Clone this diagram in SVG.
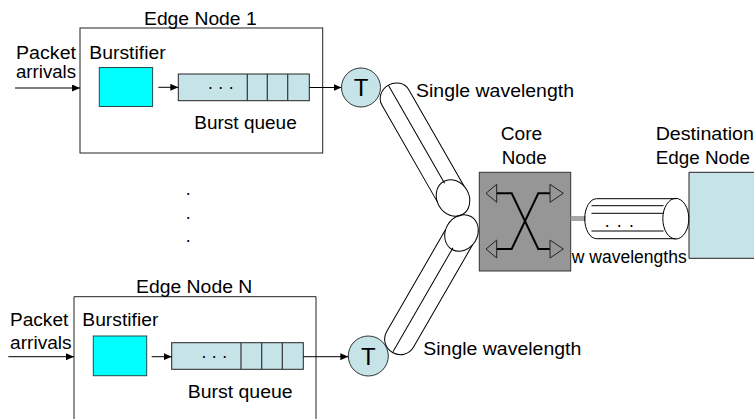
<svg xmlns="http://www.w3.org/2000/svg" width="754" height="419" viewBox="0 0 754 419">
<style>
text{font-family:"Liberation Sans",Arial,sans-serif;font-size:17.5px;fill:#000}
.box{fill:#fff;stroke:#222;stroke-width:1}
.burst{fill:#00FFFF;stroke:#2a4a4a;stroke-width:1}
.queue{fill:#C6E4E8;stroke:#222;stroke-width:1}
.div{stroke:#333;stroke-width:1.2}
.tx{fill:#C6E4E8;stroke:#333;stroke-width:1}
.arr{stroke:#000;stroke-width:1;fill:none;marker-end:url(#ah)}
.tube{fill:none;stroke:#000;stroke-width:1}
.sw{fill:none;stroke:#000;stroke-width:2}
.tri{fill:none;stroke:#222;stroke-width:1}
.dots{font-size:17.5px}
</style>
<defs>
<marker id="ah" markerWidth="8" markerHeight="7" refX="8" refY="3.5" orient="auto" markerUnits="userSpaceOnUse">
<path d="M0,0 L8,3.5 L0,7 Z" fill="#000"/>
</marker>
</defs>
<rect width="754" height="419" fill="#fff"/>

<g id="edge-node-1">
<rect class="box" x="80" y="28" width="242.7" height="125"/>
<text x="144" y="25" textLength="112.7" lengthAdjust="spacingAndGlyphs">Edge Node 1</text>
<text x="89.3" y="59.3" textLength="76.4" lengthAdjust="spacingAndGlyphs">Burstifier</text>
<rect class="burst" x="99.3" y="67.5" width="53.3" height="39"/>
<rect class="queue" x="178.3" y="74" width="131" height="26.7"/>
<line class="div" x1="247.3" y1="74" x2="247.3" y2="100.7"/>
<line class="div" x1="267.3" y1="74" x2="267.3" y2="100.7"/>
<line class="div" x1="287.7" y1="74" x2="287.7" y2="100.7"/>
<text class="dots" x="208" y="88.5" textLength="25.5" lengthAdjust="spacing">. . .</text>
<text x="194.3" y="129" textLength="102.4" lengthAdjust="spacingAndGlyphs">Burst queue</text>
</g>
<g id="arrivals-1">
<text x="16" y="59.3" textLength="60" lengthAdjust="spacingAndGlyphs">Packet</text>
<text x="16" y="78.3" textLength="60" lengthAdjust="spacingAndGlyphs">arrivals</text>
</g>
<g id="transmitter-1">
<circle class="tx" cx="361" cy="87.5" r="19.5"/>
<text x="361" y="96" text-anchor="middle" style="font-size:24px">T</text>
</g>

<g id="edge-node-n">
<path class="box" d="M74,420 V296.7 H316 V420"/>
<text x="136" y="293.3" textLength="116.3" lengthAdjust="spacingAndGlyphs">Edge Node N</text>
<text x="82.3" y="325.7" textLength="76" lengthAdjust="spacingAndGlyphs">Burstifier</text>
<rect class="burst" x="93.3" y="336" width="53.4" height="39.7"/>
<rect class="queue" x="171.7" y="342.7" width="131.6" height="26.6"/>
<line class="div" x1="241" y1="342.7" x2="241" y2="369.3"/>
<line class="div" x1="261.7" y1="342.7" x2="261.7" y2="369.3"/>
<line class="div" x1="282.3" y1="342.7" x2="282.3" y2="369.3"/>
<text class="dots" x="201.5" y="358" textLength="25.5" lengthAdjust="spacing">. . .</text>
<text x="187.7" y="397.5" textLength="105" lengthAdjust="spacingAndGlyphs">Burst queue</text>
</g>
<g id="arrivals-n">
<text x="10" y="325.7" textLength="58.3" lengthAdjust="spacingAndGlyphs">Packet</text>
<text x="10" y="349.3" textLength="61.7" lengthAdjust="spacingAndGlyphs">arrivals</text>
</g>
<g id="transmitter-n">
<circle class="tx" cx="368.3" cy="356" r="20"/>
<text x="368.3" y="364.5" text-anchor="middle" style="font-size:24px">T</text>
</g>

<g id="ellipsis-nodes">
<text x="188.3" y="194.5" text-anchor="middle">.</text>
<text x="188.3" y="218.5" text-anchor="middle">.</text>
<text x="188.3" y="241.8" text-anchor="middle">.</text>
</g>

<g id="core-node">
<text x="500.7" y="140" textLength="41.6" lengthAdjust="spacingAndGlyphs">Core</text>
<text x="501.7" y="164" textLength="45" lengthAdjust="spacingAndGlyphs">Node</text>
<rect x="479.3" y="172.3" width="91.4" height="98.7" fill="#969696" stroke="#333" stroke-width="1"/>
<path class="sw" d="M496.7,193.3 H511.7 L538.3,249 H550"/>
<path class="sw" d="M550,193.3 H538.3 L511.7,249 H496.7"/>
<path class="tri" d="M496.7,184.3 L486,193.3 L496.7,202.3 Z"/>
<path class="tri" d="M550,184.3 L563.3,193.3 L550,202.3 Z"/>
<path class="tri" d="M496.7,240 L486,249 L496.7,258 Z"/>
<path class="tri" d="M550,240 L563.3,249 L550,258 Z"/>
</g>

<g id="destination-node">
<text x="655.7" y="140" textLength="98.3" lengthAdjust="spacingAndGlyphs">Destination</text>
<text x="655.7" y="164" textLength="94.3" lengthAdjust="spacingAndGlyphs">Edge Node</text>
<path d="M755,172.3 H689 V258.3 H755" fill="#C6E4E8" stroke="#222" stroke-width="1"/>
</g>

<g id="connectors">
<line class="arr" x1="15" y1="88" x2="80" y2="88"/>
<line class="arr" x1="158.3" y1="87.3" x2="178.3" y2="87.3"/>
<line class="arr" x1="309.3" y1="87.5" x2="341.5" y2="87.5"/>
<line class="arr" x1="8.3" y1="356.7" x2="74" y2="356.7"/>
<line class="arr" x1="151.7" y1="356.7" x2="171.7" y2="356.7"/>
<line class="arr" x1="303.3" y1="356.7" x2="348.3" y2="356.7"/>

<g id="fiber-1" transform="translate(453,198) rotate(60.2)">
<path class="tube" d="M-4.7,-15.5 H-116 A14,15.5 0 0 0 -116,15.5 H-4.7"/>
<line class="tube" x1="-130" y1="0" x2="-17" y2="0"/>
<ellipse class="tube" cx="0" cy="0" rx="19" ry="16"/>
</g>
<g id="fiber-n" transform="translate(461.5,233) rotate(-60)">
<path class="tube" d="M-4.7,-15.5 H-123 A15,15.5 0 0 0 -123,15.5 H-4.7"/>
<line class="tube" x1="-137" y1="0" x2="-17" y2="0"/>
<ellipse class="tube" cx="0" cy="0" rx="19" ry="16"/>
</g>

<rect x="570.7" y="216" width="15" height="5" fill="#A6A6A6"/>
<g id="fiber-w">
<path class="tube" d="M675.8,198.7 H596.7 A12,20 0 0 0 596.7,238.7 H675.8"/>
<ellipse class="tube" cx="675.8" cy="218.7" rx="13" ry="20.3"/>
<line class="tube" x1="591.5" y1="205.7" x2="663.5" y2="205.7"/>
<line class="tube" x1="591.5" y1="213.3" x2="663.5" y2="213.3"/>
<line class="tube" x1="591.5" y1="231" x2="663.5" y2="231"/>
<text class="dots" x="604.7" y="226.7" textLength="29.2" lengthAdjust="spacing">. . .</text>
</g>
</g>

<g id="labels">
<text x="416" y="96.7" textLength="158" lengthAdjust="spacingAndGlyphs">Single wavelength</text>
<text x="423.3" y="354.5" textLength="158" lengthAdjust="spacingAndGlyphs">Single wavelength</text>
<text x="571.7" y="263.3" textLength="115" lengthAdjust="spacingAndGlyphs">w wavelengths</text>
</g>
</svg>
